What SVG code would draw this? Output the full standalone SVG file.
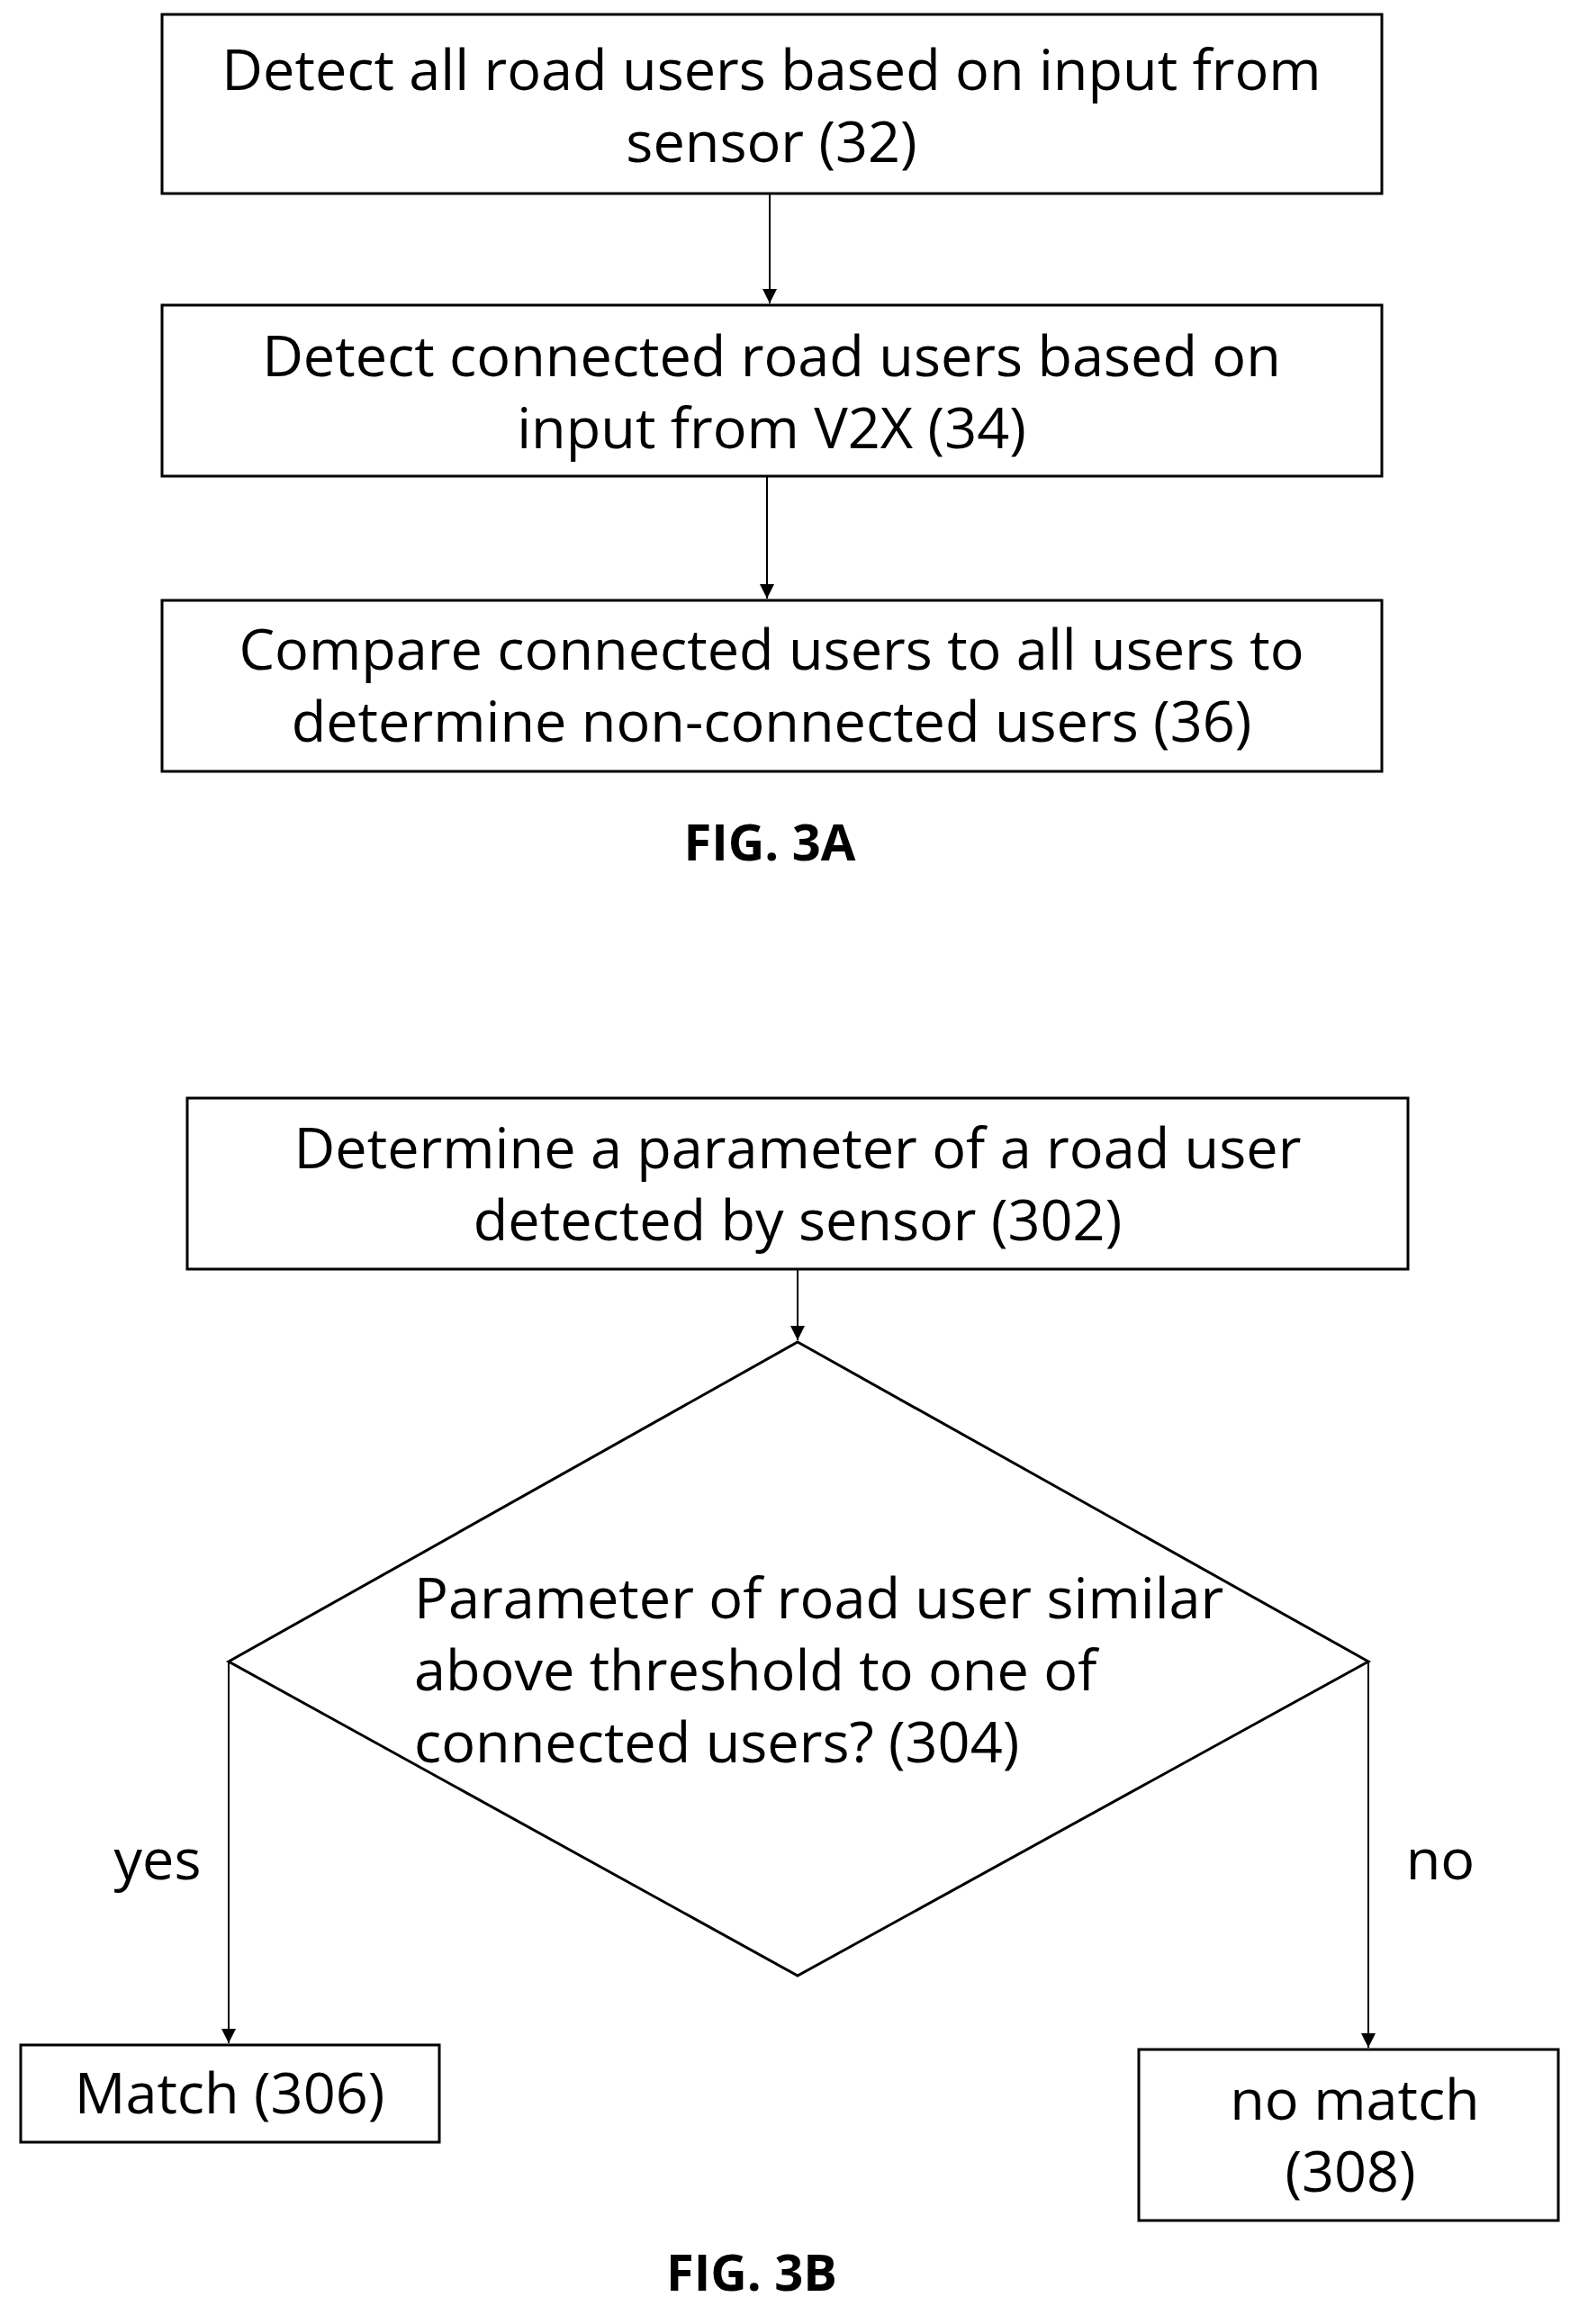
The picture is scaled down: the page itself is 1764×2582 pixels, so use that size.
<svg xmlns="http://www.w3.org/2000/svg" width="1764" height="2582" viewBox="0 0 1764 2582">
<style>
.b{fill:#fff;stroke:#000;stroke-width:3}
.t{font-family:"Open Sans","DejaVu Sans",sans-serif;font-size:63px;fill:#000}
.c{text-anchor:middle}
.f{font-family:"Open Sans","DejaVu Sans",sans-serif;font-size:56px;font-weight:bold;text-anchor:middle}
.l{stroke:#000;stroke-width:2;fill:none;marker-end:url(#a)}
</style>
<defs><marker id="a" markerWidth="16" markerHeight="16" refX="10" refY="5" orient="auto" markerUnits="userSpaceOnUse" viewBox="0 0 10 10"><path d="M0,0L10,5L0,10z" fill="#000"/></marker></defs>
<rect width="1764" height="2582" fill="#fff"/>
<g id="connectors">
<line class="l" x1="855" y1="215" x2="855" y2="337"/>
<line class="l" x1="852" y1="529" x2="852" y2="665"/>
<line class="l" x1="886" y1="1410" x2="886" y2="1489"/>
<polyline class="l" points="254,1846 254,2270"/>
<polyline class="l" points="1520,1846 1520,2275"/>
</g>
<g id="n32"><rect class="b" x="180" y="16" width="1355" height="199"/>
<text class="t c" x="857" y="100">Detect all road users based on input from</text>
<text class="t c" x="857" y="180">sensor (32)</text></g>
<g id="n34"><rect class="b" x="180" y="339" width="1355" height="190"/>
<text class="t c" x="857" y="418">Detect connected road users based on</text>
<text class="t c" x="857" y="498">input from V2X (34)</text></g>
<g id="n36"><rect class="b" x="180" y="667" width="1355" height="190"/>
<text class="t c" x="857" y="744">Compare connected users to all users to</text>
<text class="t c" x="857" y="824">determine non-connected users (36)</text></g>
<text class="f" x="855" y="956">FIG. 3A</text>
<g id="n302"><rect class="b" x="208" y="1220" width="1356" height="190"/>
<text class="t c" x="886" y="1298">Determine a parameter of a road user</text>
<text class="t c" x="886" y="1378">detected by sensor (302)</text></g>
<g id="n304"><polygon class="b" points="886,1491 1520,1846 886,2195 254,1846"/>
<text class="t" x="460" y="1798">Parameter of road user similar</text>
<text class="t" x="460" y="1878">above threshold to one of</text>
<text class="t" x="460" y="1958">connected users? (304)</text></g>
<text class="t c" x="175" y="2088">yes</text>
<text class="t c" x="1600" y="2088">no</text>
<g id="n306"><rect class="b" x="23" y="2272" width="465" height="108"/>
<text class="t c" x="255" y="2348">Match (306)</text></g>
<g id="n308"><rect class="b" x="1265" y="2277" width="466" height="190"/>
<text class="t c" x="1505" y="2355">no match</text>
<text class="t c" x="1500" y="2435">(308)</text></g>
<text class="f" x="835" y="2545">FIG. 3B</text>
</svg>
